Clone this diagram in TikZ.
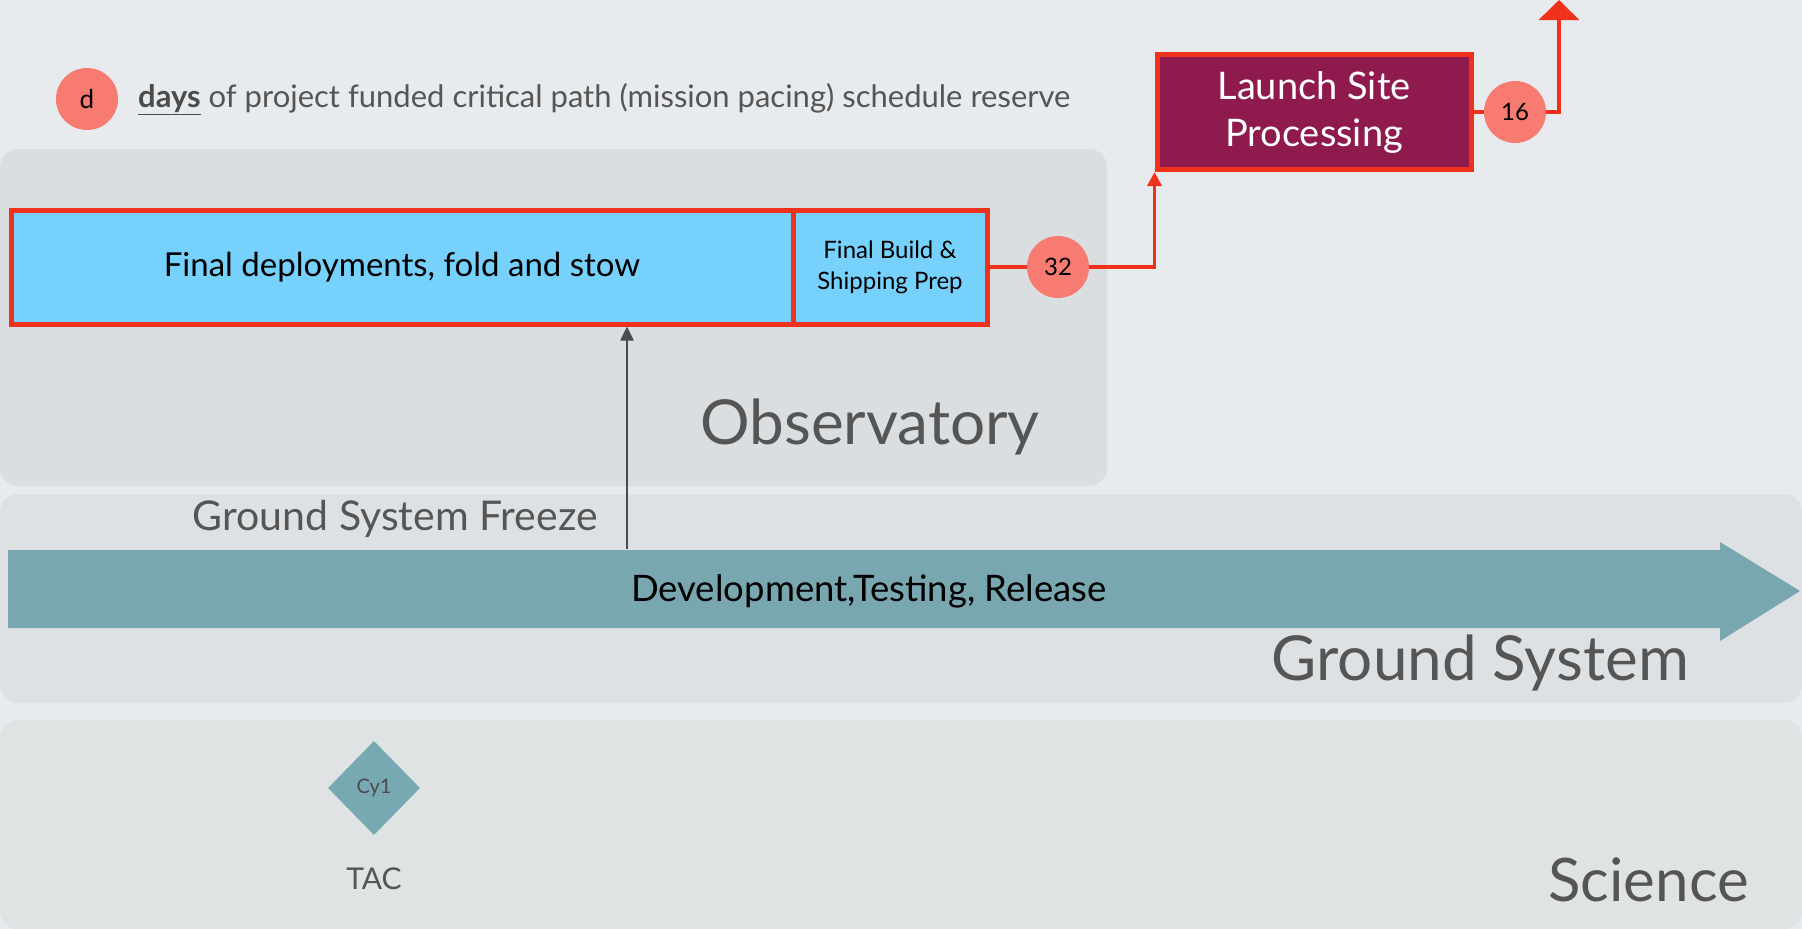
\documentclass[tikz,border=0pt]{standalone}
\usepackage{fontspec}
\setmainfont{Lato}
\usetikzlibrary{shapes.geometric,arrows.meta}
\definecolor{bg}{RGB}{232,235,238}
\definecolor{panelA}{RGB}{219,222,225}
\definecolor{panelB}{RGB}{222,225,227}
\definecolor{panelC}{RGB}{223,227,228}
\definecolor{skyb}{RGB}{118,209,252}
\definecolor{redb}{RGB}{240,50,28}
\definecolor{salmon}{RGB}{247,123,112}
\definecolor{maroon}{RGB}{142,26,78}
\definecolor{tealA}{RGB}{120,167,176}
\definecolor{tealD}{RGB}{118,169,177}
\definecolor{txtg}{RGB}{85,85,85}
\definecolor{darkg}{RGB}{75,75,75}
\newcommand{\fs}[2]{\fontsize{#1}{#2}\selectfont}
\tikzset{
  panel/.style={rounded corners=18pt},
  taskbox/.style={draw=redb, line width=5pt, fill=skyb, inner sep=0pt, text=black, align=center},
  circ/.style={circle, fill=salmon, minimum size=62pt, inner sep=0pt, text=black},
  redline/.style={draw=redb, line width=3.5pt},
  lanelabel/.style={text=txtg, font=\fs{62}{62}, inner sep=0pt},
}
\begin{document}
\begin{tikzpicture}[x=1pt,y=-1pt]
\fill[bg] (0,0) rectangle (1802,929);
\useasboundingbox (0,0) rectangle (1802,929);
% panels
\fill[panelA, panel] (0,149) rectangle (1107,486);
\fill[panelB, panel] (0,494) rectangle (1802,703);
\fill[panelC, panel] (0,720) rectangle (1802,929);
% legend
\node[circ, font=\fs{26}{26}] (dleg) at (87,99) {d};
\node[anchor=west, text=txtg, font=\fs{31}{31}, inner sep=0pt] (legend) at (138,99)
  {{\color{darkg}\bfseries\underline{days}} of project funded critical path (mission pacing) schedule reserve};
% observatory tasks
\node[taskbox, minimum width=782pt, minimum height=114pt, font=\fs{33}{33}] (fold) at (402,267) {Final deployments, fold and stow};
\node[taskbox, minimum width=194pt, minimum height=114pt, font=\fs{24}{31}] (ship) at (890,267) {Final Build \&\\Shipping Prep};
\node[circ, font=\fs{24}{24}] (c32) at (1058,267) {32};
\node[draw=redb, line width=5pt, fill=maroon, text=white, align=center, minimum width=314pt, minimum height=115pt, inner sep=0pt, font=\fs{38}{47}] (launch) at (1314,112) {Launch Site\\Processing};
\node[circ, font=\fs{24}{24}] (c16) at (1515,112) {16};
\coordinate (top) at (1559,0);
\draw[redline] (ship.east) -- (c32.west);
\draw[redline, -{Triangle[width=14pt,length=14pt]}] (c32.east) -| (launch.south west);
\draw[redline] (launch.east) -- (c16.west);
\draw[redline, -{Triangle[width=40pt,length=20pt]}] (c16.east) -| (top);
\node[lanelabel, anchor=east] (obs) at (1040,427) {Observatory};
% ground system
\fill[tealA] (8,550) -- (1720,550) -- (1720,542) -- (1800,591) -- (1720,641) -- (1720,628) -- (8,628) -- cycle;
\node[font=\fs{36.5}{36.5}, text=black, inner sep=0pt] (dev) at (869,591) {Development,Testing, Release};
\coordinate (frz) at (627,549);
\draw[draw=darkg, line width=2.5pt, -{Triangle[width=13pt,length=14pt]}] (frz) -- (frz |- fold.south);
\node[anchor=east, text=txtg, font=\fs{41}{41}, inner sep=0pt] (gsf) at (598,519) {Ground System Freeze};
\node[lanelabel, anchor=east] (gs) at (1689,663) {Ground System};
% science
\node[diamond, fill=tealD, minimum width=92pt, minimum height=94pt, inner sep=0pt, text=darkg, font=\fs{20}{20}] (cy1) at (374,788) {Cy1};
\node[text=txtg, font=\fs{30}{30}, inner sep=0pt] (tac) at (374,879) {TAC};
\node[lanelabel, anchor=east, font=\fs{60}{60}] (sci) at (1749,880) {Science};
\end{tikzpicture}
\end{document}
